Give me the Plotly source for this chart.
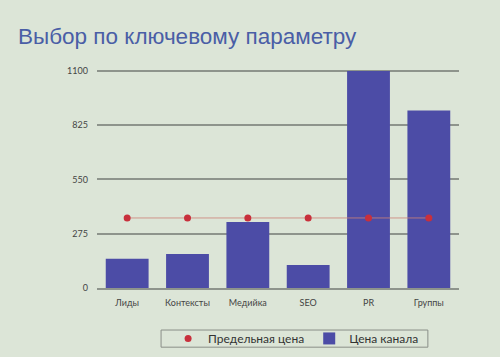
import plotly.graph_objects as go

categories = ["Лиды", "Контексты", "Медийка", "SEO", "PR", "Группы"]
channel_price = [148, 172, 335, 117, 1100, 900]
limit_price = [355, 355, 355, 355, 355, 355]
y_ticks = [0, 275, 550, 825, 1100]

bg = "#dce5d7"
red = "#c8303c"
fig = go.Figure()
fig.add_trace(go.Scatter(
    x=[None], y=[None], name="Предельная цена", mode="markers",
    marker=dict(color=red, size=7), showlegend=True,
))
fig.add_trace(go.Bar(
    x=categories, y=channel_price, name="Цена канала",
    marker=dict(color="#4c4ca6", line=dict(width=0)),
))
fig.add_trace(go.Scatter(
    x=categories, y=limit_price, name="Предельная цена",
    mode="lines+markers", showlegend=False,
    line=dict(color="rgba(205,130,120,0.8)", width=1),
    marker=dict(color=red, size=7),
))

fig.update_layout(
    width=500, height=357,
    paper_bgcolor=bg, plot_bgcolor=bg,
    margin=dict(l=97, r=41, t=68, b=69, autoexpand=False),
    title=dict(text="Выбор по ключевому параметру", x=0.036, xanchor="left",
               y=0.9, yanchor="middle",
               font=dict(family="Liberation Sans, Arial", size=22.5, color="#4a5ea6")),
    bargap=0.29,
    showlegend=True,
    legend=dict(orientation="h", x=0.55, xanchor="center",
                yref="container", y=0.052, yanchor="middle",
                bgcolor="rgba(0,0,0,0)", borderwidth=0,
                font=dict(family="Lato, DejaVu Sans", size=12, color="#333"),
                itemwidth=30, tracegroupgap=0),
    shapes=[dict(type="rect", xref="paper", yref="paper",
                 x0=0.177, x1=0.914, y0=-0.269, y1=-0.191,
                 line=dict(color="#8a8f88", width=1), fillcolor="rgba(0,0,0,0)",
                 layer="below")],
    font=dict(family="Lato, DejaVu Sans", size=9, color="#444"),
)
fig.update_yaxes(range=[0, 1115], tickvals=y_ticks, showgrid=True,
                 gridcolor="#8e948c", gridwidth=1.5, zeroline=False,
                 showline=False, ticks="", ticklen=0, ticklabelstandoff=8)
fig.update_xaxes(type="category", categoryorder="array", categoryarray=categories,
                 range=[-0.5, 5.5], ticklabelstandoff=5,
                 showline=True, linecolor="#8e948c", linewidth=1.5, ticks="",
                 showgrid=False)

fig.write_html("out.html")
